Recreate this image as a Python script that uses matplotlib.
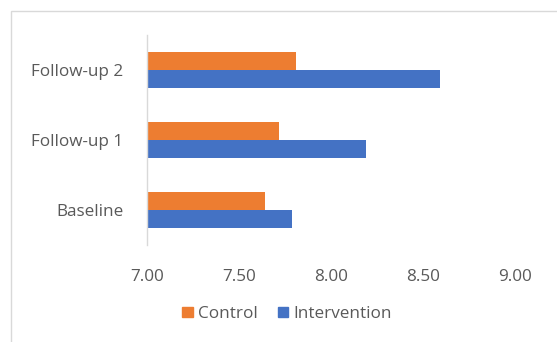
import matplotlib
matplotlib.use("Agg")
import matplotlib.pyplot as plt
from matplotlib.patches import Rectangle, Patch
import numpy as np

categories = ["Baseline", "Follow-up 1", "Follow-up 2"]
control = [7.64, 7.72, 7.81]
intervention = [7.79, 8.19, 8.59]
xticks = [7.00, 7.50, 8.00, 8.50, 9.00]

plt.rcParams['font.family'] = ['Open Sans', 'DejaVu Sans']
txt = '#595959'
c_orange = '#ED7D31'
c_blue = '#4472C4'

fig = plt.figure(figsize=(5.57, 3.42), dpi=100)
W, H = 557, 342
ax = fig.add_axes([147 / W, 1 - 245 / H, (515 - 147) / W, (245 - 35) / H])

y = np.arange(len(categories))
h = 0.26
ax.barh(y + h / 2, control, height=h, left=0, color=c_orange, label='Control')
ax.barh(y - h / 2, intervention, height=h, left=0, color=c_blue, label='Intervention')

ax.set_xlim(7.0, 9.0)
ax.set_ylim(-0.5, 2.5)
ax.set_xticks(xticks)
ax.set_xticklabels([f"{v:.2f}" for v in xticks])
ax.set_yticks(y)
ax.set_yticklabels(categories)
ax.tick_params(axis='both', length=0, labelsize=12.3, colors=txt)
ax.tick_params(axis='x', pad=17)
ax.tick_params(axis='y', pad=17)
for s in ['top', 'right', 'bottom']:
    ax.spines[s].set_visible(False)
ax.spines['left'].set_color('#D9D9D9')
ax.spines['left'].set_linewidth(1.0)

handles = [Patch(color=c_orange, label='Control'), Patch(color=c_blue, label='Intervention')]
leg = fig.legend(handles=handles, loc='center', bbox_to_anchor=(287 / W, 1 - 314 / H),
                 ncol=2, frameon=False, fontsize=12.3, handlelength=0.6, handleheight=0.6,
                 handletextpad=0.3, columnspacing=1.2)
for t in leg.get_texts():
    t.set_color(txt)

fig.patches.append(Rectangle((11 / W, -0.05), 1.1, 1 - 11 / H + 0.05, transform=fig.transFigure,
                             fill=False, edgecolor='#D9D9D9', linewidth=1.0))

fig.savefig('out.png', dpi=100)
